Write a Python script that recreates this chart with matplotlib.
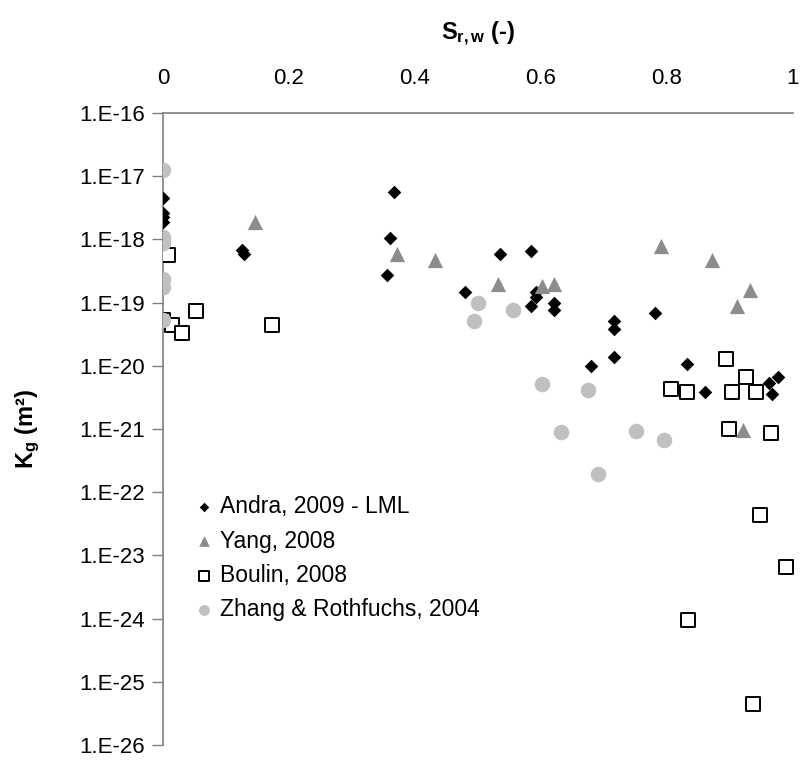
import matplotlib
matplotlib.use("Agg")
import matplotlib.pyplot as plt
import numpy as np
from matplotlib.ticker import FixedLocator, FuncFormatter

plt.rcParams['font.family'] = ['Liberation Sans', 'DejaVu Sans']
plt.rcParams['mathtext.fontset'] = 'custom'
plt.rcParams['mathtext.rm'] = 'Liberation Sans'
plt.rcParams['mathtext.bf'] = 'Liberation Sans:bold'
plt.rcParams['mathtext.it'] = 'Liberation Sans:italic'

# Andra, 2009 - LML
andra_x = [0.0, 0.0, 0.0, 0.0, 0.125, 0.129, 0.366, 0.360, 0.356, 0.480, 0.535,
           0.584, 0.584, 0.592, 0.592, 0.621, 0.620, 0.716, 0.716, 0.716, 0.781,
           0.680, 0.831, 0.861, 0.976, 0.962, 0.966]
andra_logk = [-17.35, -17.59, -17.65, -17.72, -18.17, -18.23, -17.25, -17.98, -18.57,
              -18.83, -18.23, -18.18, -19.05, -18.84, -18.91, -19.00, -19.12, -19.29,
              -19.41, -19.86, -19.16, -20.00, -19.97, -20.41, -20.18, -20.27, -20.45]

# Yang, 2008
yang_x = [0.146, 0.371, 0.431, 0.531, 0.601, 0.621, 0.790, 0.871, 0.931, 0.911, 0.921]
yang_logk = [-17.72, -18.23, -18.32, -18.70, -18.73, -18.71, -18.10, -18.33, -18.80,
             -19.05, -21.02]

# Boulin, 2008
boulin_x = [0.008, 0.053, 0.0, 0.015, 0.030, 0.173, 0.893, 0.926, 0.807, 0.831, 0.903,
            0.941, 0.898, 0.965, 0.948, 0.989, 0.834, 0.937]
boulin_logk = [-18.24, -19.13, -19.28, -19.35, -19.48, -19.35, -19.90, -20.18, -20.37,
               -20.42, -20.42, -20.41, -21.00, -21.07, -22.36, -23.18, -24.03, -25.35]

# Zhang & Rothfuchs, 2004
zhang_x = [0.0, 0.0, 0.0, 0.0, 0.0, 0.0, 0.500, 0.494, 0.556, 0.601, 0.674, 0.631,
           0.750, 0.796, 0.690]
zhang_logk = [-16.90, -17.96, -18.06, -18.62, -18.75, -19.28, -19.01, -19.29, -19.11,
              -20.29, -20.39, -21.05, -21.03, -21.17, -21.71]

x_ticks = [0, 0.2, 0.4, 0.6, 0.8, 1]
x_ticklabels = ['0', '0.2', '0.4', '0.6', '0.8', '1']
y_exponents = list(range(-16, -27, -1))

fig = plt.figure(figsize=(8.02, 7.61), dpi=100)
ax = fig.add_axes([163/802, 1-745/761, (793-163)/802, (745-113)/761])

def k(vals):
    return [10.0**v for v in vals]

ax.scatter(andra_x, k(andra_logk), marker='D', s=48, color='black', zorder=3,
           label='Andra, 2009 - LML', linewidths=0)
ax.scatter(yang_x, k(yang_logk), marker='^', s=120, color='#8c8c8c', zorder=3,
           label='Yang, 2008', linewidths=0)
ax.scatter(boulin_x, k(boulin_logk), marker='s', s=95, facecolor='white',
           edgecolor='black', linewidths=1.4, zorder=3, label='Boulin, 2008')
ax.scatter(zhang_x, k(zhang_logk), marker='o', s=125, color='#c0c0c0', zorder=3,
           label='Zhang & Rothfuchs, 2004', linewidths=0)

ax.set_yscale('log')
ax.set_ylim(1e-26, 1e-16)
ax.set_xlim(0, 1)
ax.yaxis.set_major_locator(FixedLocator([10.0**e for e in y_exponents]))
ax.yaxis.set_minor_locator(FixedLocator([]))
ax.yaxis.set_major_formatter(FuncFormatter(lambda v, p: '1.E%d' % int(round(np.log10(v)))))
ax.xaxis.tick_top()
ax.xaxis.set_label_position('top')
ax.set_xticks(x_ticks)
ax.set_xticklabels(x_ticklabels)
ax.tick_params(axis='x', length=0, labelsize=16, pad=17)
ax.tick_params(axis='y', direction='out', length=8, width=1, color='#808080',
               labelsize=16, pad=5)
for s in ['right', 'bottom']:
    ax.spines[s].set_visible(False)
for s in ['left', 'top']:
    ax.spines[s].set_color('#808080')
    ax.spines[s].set_linewidth(1.2)

ax.set_xlabel(r'$\mathbf{S}_{\mathbf{r,w}}$ (-)', fontsize=17, fontweight='bold', labelpad=21)
ax.set_ylabel(r'$\mathbf{K}_{\mathbf{g}}$ (m²)', fontsize=17, fontweight='bold', labelpad=27)

leg = ax.legend(loc='upper left', bbox_to_anchor=(0.028, 0.41), frameon=False,
                fontsize=16.5, handletextpad=0.1, labelspacing=0.5,
                markerscale=0.7, borderaxespad=0, handlelength=1.2)

fig.savefig('out.png', dpi=100)
